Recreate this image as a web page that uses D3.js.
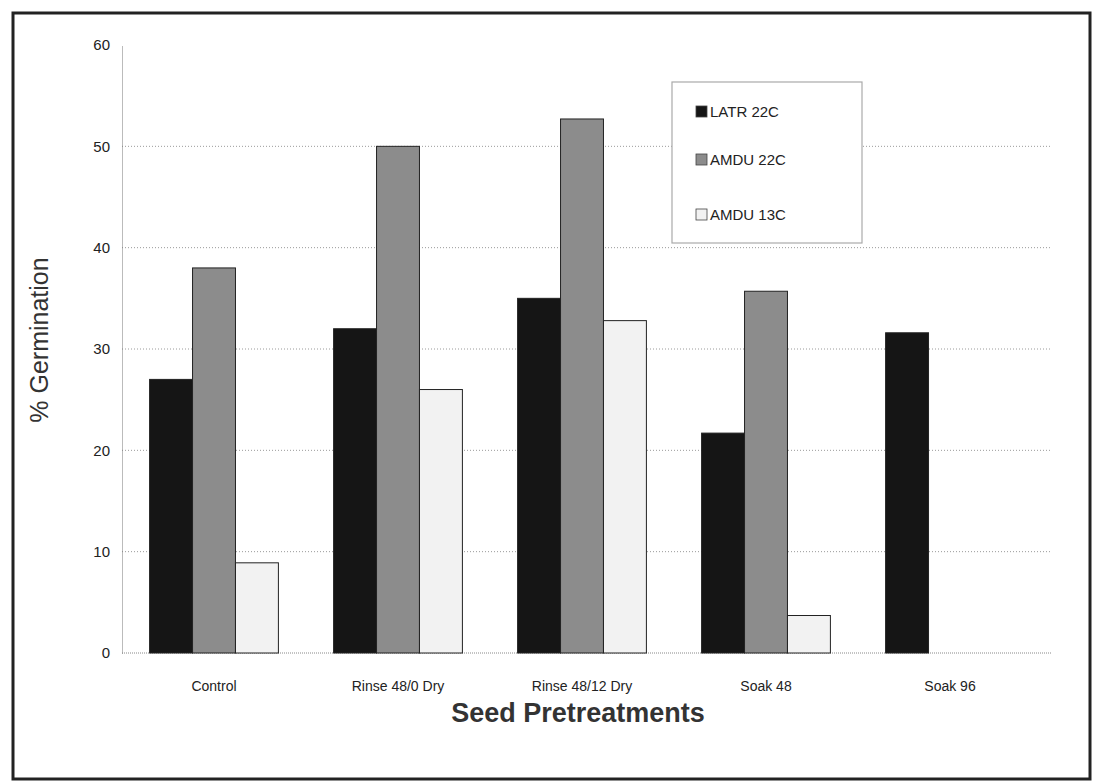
<!DOCTYPE html>
<html><head><meta charset="utf-8">
<script src="https://cdn.jsdelivr.net/npm/d3@7"></script>
<style>body{margin:0;background:#fff;} svg{display:block;font-family:Arial, "Liberation Sans", sans-serif;}</style>
</head><body>
<script>
const categories = ["Control","Rinse 48/0 Dry","Rinse 48/12 Dry","Soak 48","Soak 96"];
const seriesNames = ["LATR 22C","AMDU 22C","AMDU 13C"];
const latr22 = [27, 32, 35, 21.7, 31.6];
const amdu22 = [38, 50, 52.7, 35.7, 0];
const amdu13 = [8.9, 26, 32.8, 3.7, 0];
const yTicks = [0,10,20,30,40,50,60];
const seriesColors = ["#151515","#8c8c8c","#f2f2f2"];

const W=1093,H=782;
const svg=d3.select("body").append("svg").attr("width",W).attr("height",H);
svg.append("rect").attr("x",13).attr("y",13).attr("width",1077).attr("height",766)
  .attr("fill","#fff").attr("stroke","#222").attr("stroke-width",3);

const m={l:122,r:1042,t:45,b:653};
const x=d3.scaleBand().domain(categories).range([m.l,m.r]).paddingInner(0.3).paddingOuter(0.15);
const xs=d3.scaleBand().domain(seriesNames).range([0,x.bandwidth()]).padding(0);
const y=d3.scaleLinear().domain([0,60]).range([m.b,m.t]);

// gridlines
svg.append("g").selectAll("line").data(yTicks.filter(d=>d>0 && d<60)).join("line")
  .attr("x1",m.l).attr("x2",m.r+10).attr("y1",d=>y(d)).attr("y2",d=>y(d))
  .attr("stroke","#9a9a9a").attr("stroke-width",1).attr("stroke-dasharray","1,2");

// y axis
const ya=svg.append("g").attr("transform",`translate(${m.l},0)`)
  .call(d3.axisLeft(y).tickValues(yTicks).tickSize(0).tickPadding(12).tickFormat(d3.format("d")));
ya.select(".domain").attr("stroke","#777").attr("stroke-dasharray","1,1");
ya.selectAll("text").attr("font-size",15).attr("fill","#222");

// x axis
const xa=svg.append("g").attr("transform",`translate(0,${m.b})`)
  .call(d3.axisBottom(x).tickSize(0).tickPadding(28));
xa.select(".domain").attr("stroke","#888").attr("stroke-dasharray","1,1").attr("d",`M${m.l},0H${m.r+10}`);
xa.selectAll("text").attr("font-size",14).attr("fill","#222");

const data=categories.map((c,i)=>({cat:c,vals:[latr22[i],amdu22[i],amdu13[i]]}));
const g=svg.append("g").selectAll("g").data(data).join("g").attr("transform",d=>`translate(${x(d.cat)},0)`);
g.selectAll("rect").data(d=>d.vals.map((v,j)=>({v,s:seriesNames[j],j})).filter(e=>e.v>0)).join("rect")
  .attr("x",d=>xs(d.s)).attr("width",xs.bandwidth())
  .attr("y",d=>y(d.v)).attr("height",d=>y(0)-y(d.v))
  .attr("fill",d=>seriesColors[d.j]).attr("stroke","#222").attr("stroke-width",1);

// legend
const lg=svg.append("g").attr("transform","translate(672,82)");
lg.append("rect").attr("width",190).attr("height",161).attr("fill","#fff").attr("stroke","#aaa").attr("stroke-width",1.2);
const ly=[30,78,133];
seriesNames.forEach((s,i)=>{
  lg.append("rect").attr("x",24).attr("y",ly[i]-6).attr("width",11).attr("height",11)
    .attr("fill",seriesColors[i]).attr("stroke","#444").attr("stroke-width",0.8);
  lg.append("text").attr("x",38).attr("y",ly[i]+5).attr("font-size",15).attr("fill","#222").text(s);
});

// axis titles
svg.append("text").attr("transform","translate(48,340) rotate(-90)").attr("text-anchor","middle")
  .attr("font-size",25).attr("fill","#333").text("% Germination");
svg.append("text").attr("x",578).attr("y",722).attr("text-anchor","middle")
  .attr("font-size",27).attr("font-weight","bold").attr("fill","#333").text("Seed Pretreatments");
</script>
</body></html>
